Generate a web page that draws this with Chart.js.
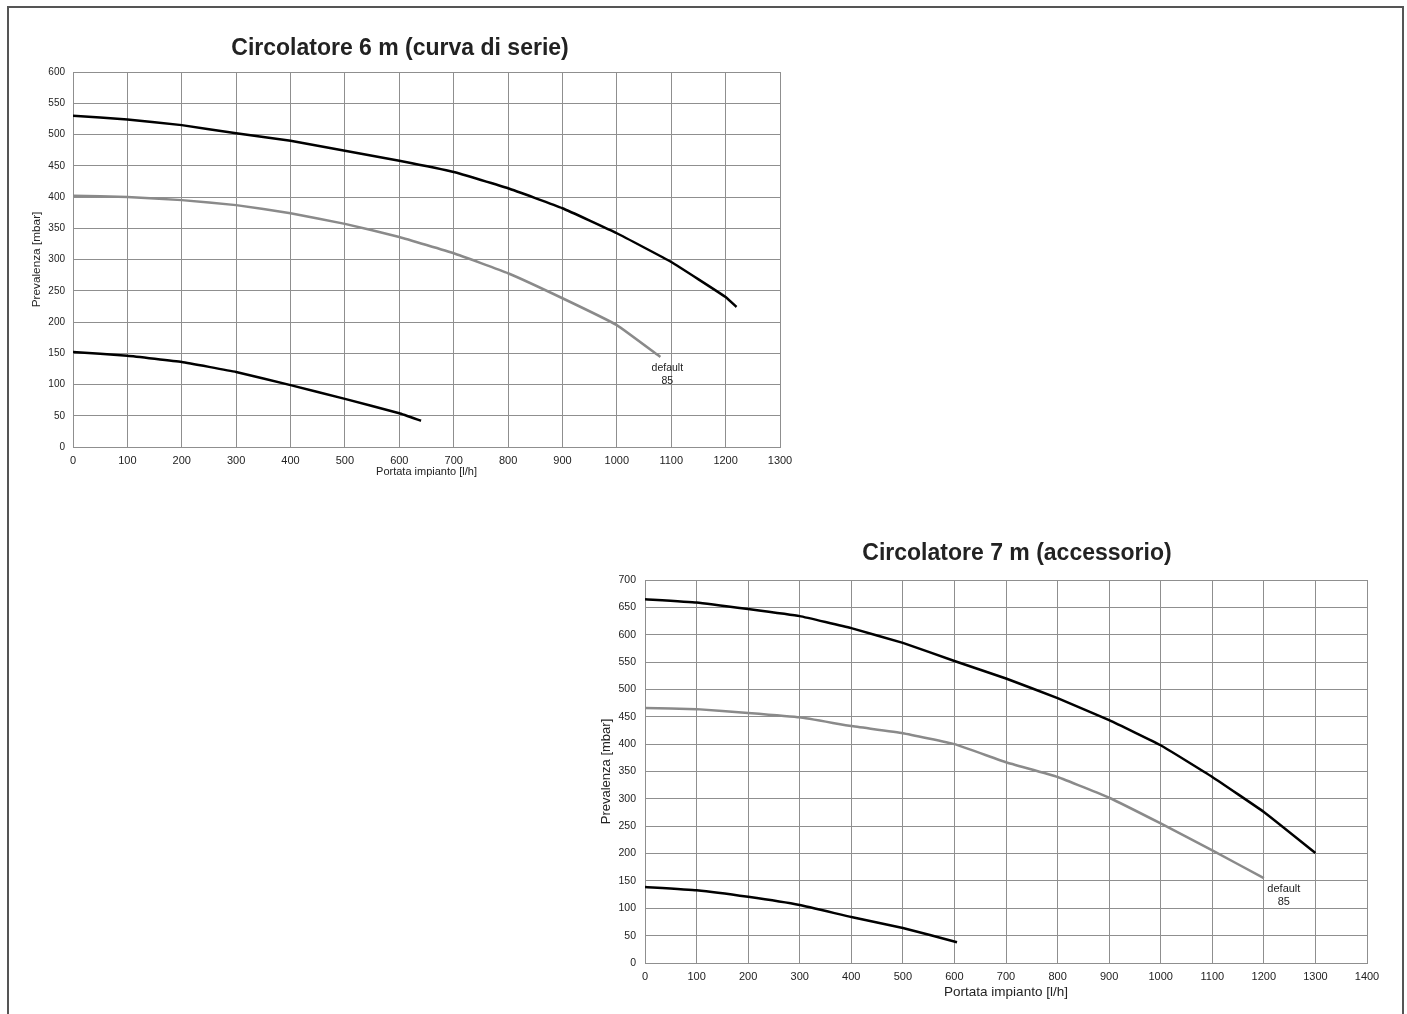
<!DOCTYPE html>
<html>
<head>
<meta charset="utf-8">
<title>Circolatore</title>
<script src="https://cdn.jsdelivr.net/npm/chart.js@4.4.1/dist/chart.umd.min.js"></script>
<style>
  html, body { margin: 0; padding: 0; background: #fff; overflow: hidden; }
  body { width: 1407px; height: 1014px; position: relative; }
  .frame { position: absolute; left: 7px; top: 6px; width: 1393px; height: 1040px; border: 2px solid #555; border-right-width: 2.5px; border-bottom: none; }
  #chart6 { position: absolute; left: 0; top: 0; }
  #chart7 { position: absolute; left: 580px; top: 530px; }
</style>
</head>
<body>
<div class="frame"></div>
<canvas id="chart6" width="800" height="480"></canvas>
<canvas id="chart7" width="874" height="475"></canvas>
<script>
// Circolatore 6 m (curva di serie)
const flow6Max = [0, 100, 200, 300, 400, 500, 600, 700, 800, 900, 1000, 1100, 1200, 1220];
const head6Max = [530, 524, 515, 502, 490, 474, 458, 440, 414, 382, 342, 296, 240, 224];
const flow6Def = [0, 100, 200, 300, 400, 500, 600, 700, 800, 900, 1000, 1080];
const head6Def = [402, 400, 395, 387, 374, 357, 336, 310, 278, 238, 195, 144];
const flow6Min = [0, 100, 200, 300, 400, 500, 600, 640];
const head6Min = [152, 146, 136, 120, 99, 77, 54, 42];

// Circolatore 7 m (accessorio)
const flow7Max = [0, 100, 200, 300, 400, 500, 600, 700, 800, 900, 1000, 1100, 1200, 1300];
const head7Max = [665, 659, 647, 634, 612, 585, 552, 520, 484, 444, 398, 340, 276, 201];
const flow7Def = [0, 100, 200, 300, 400, 500, 600, 700, 800, 900, 1000, 1100, 1200];
const head7Def = [466, 464, 457, 449, 433, 420, 400, 367, 340, 302, 255, 206, 155];
const flow7Min = [0, 100, 200, 300, 400, 500, 605];
const head7Min = [139, 133, 121, 106, 84, 64, 38];

const defaultLabel = ['default', '85'];

const fontFamily = "'Liberation Sans', Arial, sans-serif";
Chart.defaults.font.family = fontFamily;
Chart.defaults.color = '#222';

const gridColor = '#8f8f8f';
const textColor = '#222';

function toPoints(xs, ys) {
    return xs.map((x, i) => ({ x: x, y: ys[i] }));
}

function curve(xs, ys, color) {
    return {
        data: toPoints(xs, ys),
        borderColor: color,
        borderWidth: 2.5,
        pointRadius: 0,
        tension: 0.1,
        fill: false
    };
}

// bold heading, drawn at a fixed spot of the canvas
function headingPlugin(text, cx, cy, size) {
    return {
        id: 'heading',
        afterDraw(chart) {
            const ctx = chart.ctx;
            ctx.save();
            ctx.font = 'bold ' + size + 'px ' + fontFamily;
            ctx.fillStyle = textColor;
            ctx.textAlign = 'center';
            ctx.textBaseline = 'middle';
            ctx.fillText(text, cx, cy);
            ctx.restore();
        }
    };
}

// small text under the end of the "default" curve
function defaultLabelPlugin(dx, fontSize) {
    return {
        id: 'defaultLabel',
        afterDatasetsDraw(chart) {
            const meta = chart.getDatasetMeta(1);
            const last = meta.data[meta.data.length - 1];
            if (!last) return;
            const ctx = chart.ctx;
            ctx.save();
            ctx.font = fontSize + 'px ' + fontFamily;
            ctx.fillStyle = textColor;
            ctx.textAlign = 'center';
            ctx.textBaseline = 'middle';
            defaultLabel.forEach((t, i) => {
                ctx.fillText(t, last.x + dx, last.y + 11 + i * 13);
            });
            ctx.restore();
        }
    };
}

function makeChart(id, cfg) {
    const ctx = document.getElementById(id);
    return new Chart(ctx, {
        type: 'line',
        data: {
            datasets: [
                curve(cfg.flowMax, cfg.headMax, '#000'),
                curve(cfg.flowDef, cfg.headDef, '#8a8a8a'),
                curve(cfg.flowMin, cfg.headMin, '#000')
            ]
        },
        options: {
            responsive: false,
            animation: false,
            events: [],
            layout: { padding: cfg.padding },
            plugins: {
                legend: { display: false },
                tooltip: { enabled: false },
                title: { display: false }
            },
            scales: {
                x: {
                    type: 'linear',
                    min: 0,
                    max: cfg.xMax,
                    grid: { color: gridColor, drawTicks: false },
                    border: { color: gridColor },
                    ticks: {
                        stepSize: 100,
                        font: { size: 11 },
                        padding: cfg.xTickPad,
                        color: textColor,
                        maxRotation: 0,
                        callback: v => String(v)
                    },
                    title: {
                        display: true,
                        text: 'Portata impianto [l/h]',
                        color: textColor,
                        font: { size: cfg.xTitleSize },
                        padding: { top: 0, bottom: cfg.xTitlePad }
                    },
                    afterFit: s => { s.height = cfg.xHeight; }
                },
                y: {
                    min: 0,
                    max: cfg.yMax,
                    grid: { color: gridColor, drawTicks: false },
                    border: { color: gridColor },
                    ticks: {
                        stepSize: 50,
                        font: { size: cfg.yTickSize },
                        padding: cfg.yTickPad,
                        color: textColor,
                        callback: v => String(v)
                    },
                    title: {
                        display: true,
                        text: 'Prevalenza [mbar]',
                        color: textColor,
                        font: { size: cfg.yTitleSize },
                        padding: { top: cfg.yTitlePad, bottom: 0 }
                    },
                    afterFit: s => { s.width = cfg.yWidth; }
                }
            }
        },
        plugins: [
            headingPlugin(cfg.title, cfg.titleX, cfg.titleY, cfg.titleSize),
            defaultLabelPlugin(cfg.labelDx, cfg.labelSize)
        ]
    });
}

makeChart('chart6', {
    title: 'Circolatore 6 m (curva di serie)',
    flowMax: flow6Max, headMax: head6Max,
    flowDef: flow6Def, headDef: head6Def,
    flowMin: flow6Min, headMin: head6Min,
    xMax: 1300, yMax: 600,
    padding: { top: 72, right: 20, bottom: 0, left: 0 },
    titleX: 400, titleY: 48.5, titleSize: 23,
    xHeight: 33, xTickPad: 7, xTitleSize: 11, xTitlePad: 1.4,
    yWidth: 73, yTickSize: 10, yTickPad: 8, yTitleSize: 11.8, yTitlePad: 30,
    labelDx: 7, labelSize: 10.5
});

makeChart('chart7', {
    title: 'Circolatore 7 m (accessorio)',
    flowMax: flow7Max, headMax: head7Max,
    flowDef: flow7Def, headDef: head7Def,
    flowMin: flow7Min, headMin: head7Min,
    xMax: 1400, yMax: 700,
    padding: { top: 50, right: 87, bottom: 0, left: 0 },
    titleX: 437, titleY: 23.5, titleSize: 23,
    xHeight: 42, xTickPad: 7.5, xTitleSize: 13.5, xTitlePad: 5,
    yWidth: 65, yTickSize: 10.5, yTickPad: 9, yTitleSize: 13, yTitlePad: 18.2,
    labelDx: 20, labelSize: 11
});
</script>
</body>
</html>
